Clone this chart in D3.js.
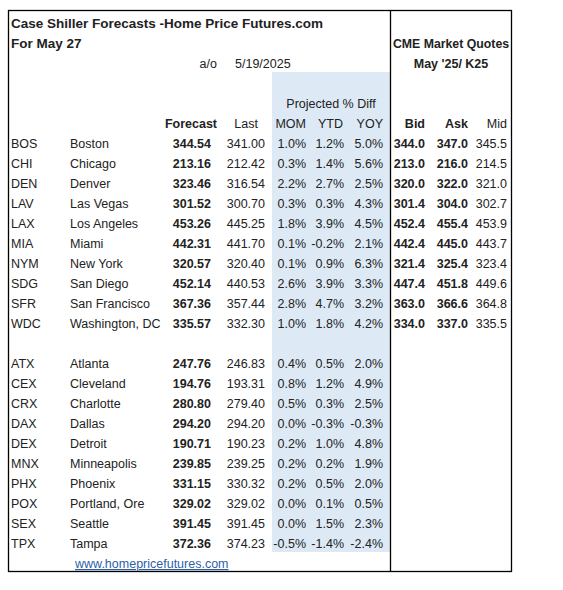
<!DOCTYPE html><html><head><meta charset="utf-8"><script src="https://cdn.jsdelivr.net/npm/d3@7"></script>
<style>body{margin:0;background:#fff}text{font-family:"Liberation Sans",Arial,sans-serif;font-size:12.5px;fill:#222}</style></head><body>
<script>
const codes=["BOS","CHI","DEN","LAV","LAX","MIA","NYM","SDG","SFR","WDC","","ATX","CEX","CRX","DAX","DEX","MNX","PHX","POX","SEX","TPX"];
const cities=["Boston","Chicago","Denver","Las Vegas","Los Angeles","Miami","New York","San Diego","San Francisco","Washington, DC","","Atlanta","Cleveland","Charlotte","Dallas","Detroit","Minneapolis","Phoenix","Portland, Ore","Seattle","Tampa"];
const forecast=["344.54","213.16","323.46","301.52","453.26","442.31","320.57","452.14","367.36","335.57","","247.76","194.76","280.80","294.20","190.71","239.85","331.15","329.02","391.45","372.36"];
const last=["341.00","212.42","316.54","300.70","445.25","441.70","320.40","440.53","357.44","332.30","","246.83","193.31","279.40","294.20","190.23","239.25","330.32","329.02","391.45","374.23"];
const mom=["1.0%","0.3%","2.2%","0.3%","1.8%","0.1%","0.1%","2.6%","2.8%","1.0%","","0.4%","0.8%","0.5%","0.0%","0.2%","0.2%","0.2%","0.0%","0.0%","-0.5%"];
const ytd=["1.2%","1.4%","2.7%","0.3%","3.9%","-0.2%","0.9%","3.9%","4.7%","1.8%","","0.5%","1.2%","0.3%","-0.3%","1.0%","0.2%","0.5%","0.1%","1.5%","-1.4%"];
const yoy=["5.0%","5.6%","2.5%","4.3%","4.5%","2.1%","6.3%","3.3%","3.2%","4.2%","","2.0%","4.9%","2.5%","-0.3%","4.8%","1.9%","2.0%","0.5%","2.3%","-2.4%"];
const bid=["344.0","213.0","320.0","301.4","452.4","442.4","321.4","447.4","363.0","334.0"];
const ask=["347.0","216.0","322.0","304.0","455.4","445.0","325.4","451.8","366.6","337.0"];
const mid=["345.5","214.5","321.0","302.7","453.9","443.7","323.4","449.6","364.8","335.5"];
const svg=d3.select("body").append("svg").attr("width",563).attr("height",590);
const y=d3.scaleLinear().domain([0,20]).range([148,548]);
svg.append("rect").attr("x",272).attr("y",72).attr("width",118).attr("height",480).attr("fill","#dde9f5");
svg.append("rect").attr("x",8.5).attr("y",10.5).attr("width",503).attr("height",561).attr("fill","none").attr("stroke","#000").attr("stroke-width",1.3);
svg.append("line").attr("x1",390.5).attr("x2",390.5).attr("y1",10).attr("y2",572).attr("stroke","#000").attr("stroke-width",1.3);
function t(x,yy,s,anchor,bold){const e=svg.append("text").attr("x",x).attr("y",yy).text(s).attr("text-anchor",anchor||"start");if(bold)e.attr("font-weight","bold");return e;}
t(11,28,"Case Shiller Forecasts -Home Price Futures.com","start",true).style("font-size","13.5px");
t(11,48,"For May 27","start",true).style("font-size","13.5px");
t(217,68,"a/o","end");t(235,68,"5/19/2025");
t(451,48,"CME Market Quotes","middle",true).style("font-size","12.3px");
t(451,68,"May  '25/ K25","middle",true);
t(331,108,"Projected % Diff","middle");
const hdr=[["Forecast",217,true],["Last",258,false],["MOM",306,false],["YTD",343,false],["YOY",383,false],["Bid",425,true],["Ask",468,true],["Mid",507,false]];
hdr.forEach(h=>t(h[1],128,h[0],"end",h[2]));
const cols=[[codes,11,"start",false],[cities,70,"start",false],[forecast,211,"end",true],[last,265,"end",false],[mom,306,"end",false],[ytd,344,"end",false],[yoy,383,"end",false],[bid,425,"end",true],[ask,468,"end",true],[mid,507,"end",false]];
cols.forEach(c=>c[0].forEach((v,i)=>{if(v)t(c[1],y(i),v,c[2],c[3]);}));
t(75,568,"www.homepricefutures.com").style("fill","#2f5fa8").attr("text-decoration","underline");
</script></body></html>
